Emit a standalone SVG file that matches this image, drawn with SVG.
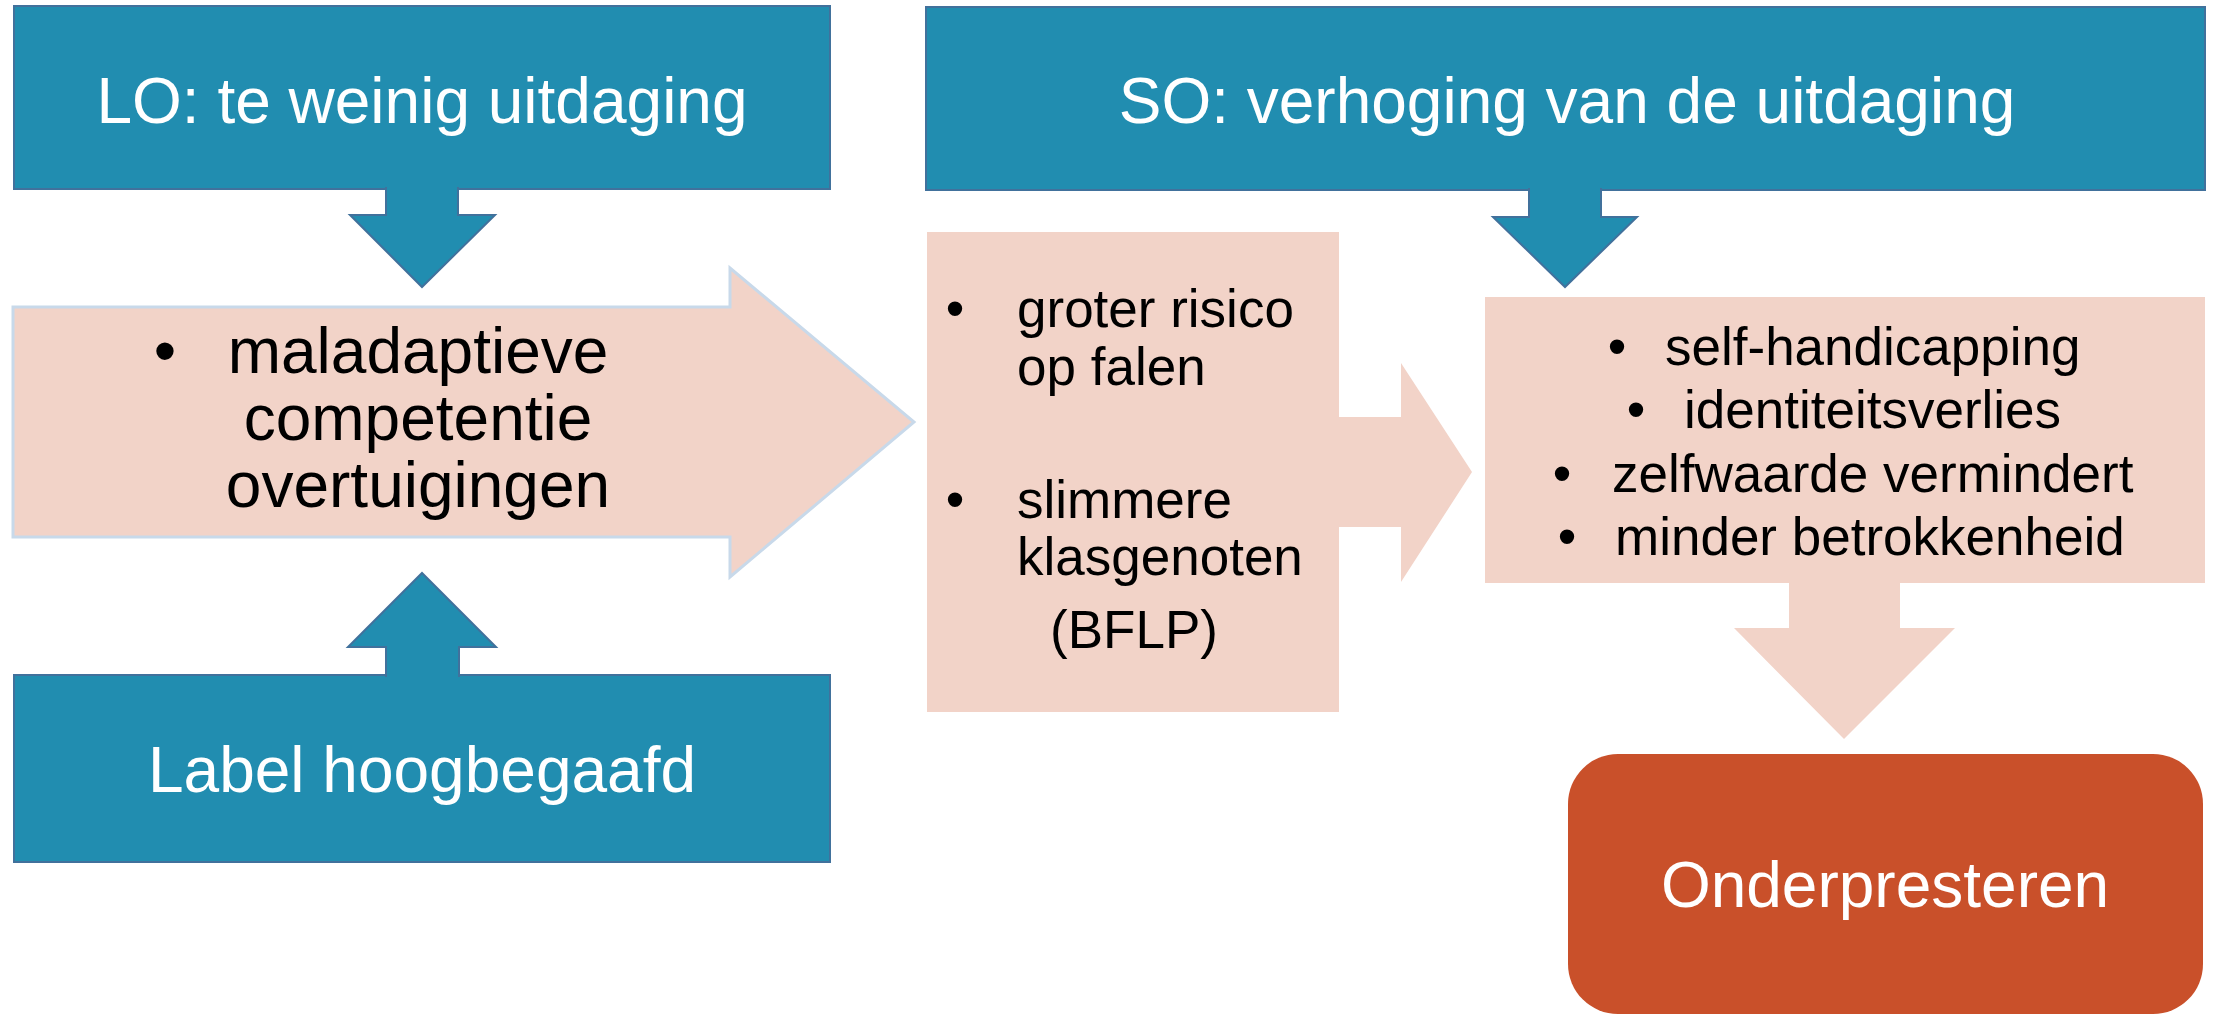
<svg xmlns="http://www.w3.org/2000/svg" width="2218" height="1016" viewBox="0 0 2218 1016">
<style>
.blue{fill:#218db0;stroke:#41719c;stroke-width:2}
.pink{fill:#f2d3c8}
.orange{fill:#c9502a}
.head{font-family:"Liberation Sans",Arial,sans-serif;font-size:64px;fill:#ffffff;text-anchor:middle}
.big{font-family:"Liberation Sans",Arial,sans-serif;font-size:64px;fill:#000000}
.body{font-family:"Liberation Sans",Arial,sans-serif;font-size:53px;fill:#000000}
.mid{text-anchor:middle}
</style>
<rect width="2218" height="1016" fill="#ffffff"/>
<g id="nodes">
  <g id="lo">
    <rect class="blue" x="14" y="6" width="816" height="183"/>
    <text class="head" x="422" y="123">LO: te weinig uitdaging</text>
  </g>
  <g id="so">
    <rect class="blue" x="926" y="7" width="1279" height="183"/>
    <text class="head" x="1567" y="123">SO: verhoging van de uitdaging</text>
  </g>
  <g id="label">
    <rect class="blue" x="14" y="675" width="816" height="187"/>
    <text class="head" x="422" y="792">Label hoogbegaafd</text>
  </g>
  <g id="competentie">
    <polygon points="13,307 730,307 730,268 914,422 730,577 730,537 13,537" fill="#f2d3c8" stroke="#c8d9ea" stroke-width="3"/>
    <text class="big mid" x="165" y="373">•</text>
    <text class="big mid" x="418" y="373">maladaptieve</text>
    <text class="big mid" x="418" y="440">competentie</text>
    <text class="big mid" x="418" y="507">overtuigingen</text>
  </g>
  <g id="risico">
    <rect class="pink" x="927" y="232" width="412" height="480"/>
    <text class="body mid" x="955" y="327">•</text>
    <text class="body" x="1017" y="327">groter risico</text>
    <text class="body" x="1017" y="385">op falen</text>
    <text class="body mid" x="955" y="518">•</text>
    <text class="body" x="1017" y="518">slimmere</text>
    <text class="body" x="1017" y="575">klasgenoten</text>
    <text class="body mid" x="1134" y="648">(BFLP)</text>
  </g>
  <g id="gevolgen">
    <rect class="pink" x="1485" y="297" width="720" height="286"/>
    <text class="body mid" x="1617" y="365">•</text>
    <text class="body" x="1665" y="365">self-handicapping</text>
    <text class="body mid" x="1636" y="428">•</text>
    <text class="body" x="1684" y="428">identiteitsverlies</text>
    <text class="body mid" x="1562" y="492">•</text>
    <text class="body" x="1612" y="492">zelfwaarde vermindert</text>
    <text class="body mid" x="1567" y="555">•</text>
    <text class="body" x="1615" y="555">minder betrokkenheid</text>
  </g>
  <g id="onderpresteren">
    <rect class="orange" x="1568" y="754" width="635" height="260" rx="50" ry="50"/>
    <text class="head" x="1885" y="907">Onderpresteren</text>
  </g>
</g>
<g id="connectors">
  <path class="blue" d="M386,187 V215 H350 L422,287 L495,215 H458 V187"/>
  <path class="blue" d="M386,677 V647 H348 L422,573 L496,647 H459 V677"/>
  <path class="blue" d="M1529,188 V217 H1493 L1565,287 L1637,217 H1601 V188"/>
  <polygon class="pink" points="1339,417 1401,417 1401,363 1472,472 1401,582 1401,527 1339,527"/>
  <polygon class="pink" points="1789,583 1900,583 1900,628 1955,628 1844,739 1734,628 1789,628"/>
</g>
</svg>
